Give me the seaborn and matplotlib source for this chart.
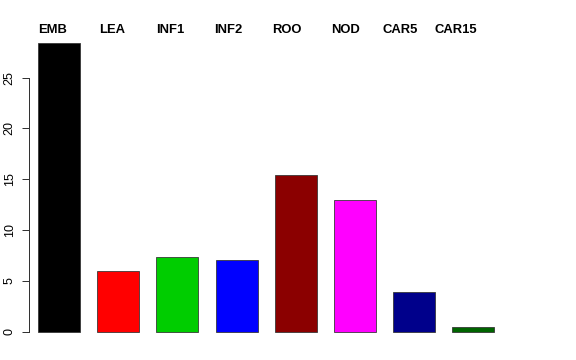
import matplotlib
matplotlib.use("Agg")
import matplotlib.pyplot as plt
import seaborn as sns
import pandas as pd

categories = ["EMB", "LEA", "INF1", "INF2", "ROO", "NOD", "CAR5", "CAR15"]
values = [28.45, 6.0, 7.4, 7.05, 15.4, 12.93, 3.88, 0.49]
colors = ["#000000", "#FF0000", "#00CD00", "#0000FF", "#8B0000", "#FF00FF", "#00008B", "#006400"]
yticks = [0, 5, 10, 15, 20, 25]

sns.set_style("white")
plt.rcParams["font.family"] = ["Liberation Sans", "DejaVu Sans"]
plt.rcParams["text.color"] = "black"
plt.rcParams["ytick.color"] = "black"
plt.rcParams["ytick.labelcolor"] = "black"

df = pd.DataFrame({"cat": categories, "val": values})

fig = plt.figure(figsize=(8, 5), dpi=72)
W, H = 576, 360
left_px, right_px = 29.3, 503.1
top_px, bottom_px = 31.0, 343.3
ax = fig.add_axes([left_px / W, 1 - bottom_px / H, (right_px - left_px) / W, (bottom_px - top_px) / H])

sns.barplot(data=df, x="cat", y="val", hue="cat", palette=colors, legend=False,
            width=0.71, edgecolor="#333333", linewidth=0.8, saturation=1, ax=ax)

ax.set_xlim(-0.502, 7.502)
ax.set_ylim(-1.138, 29.59)
ax.set_xlabel("")
ax.set_ylabel("")
ax.set_xticks([])
ax.set_yticks(yticks)
ax.set_yticklabels([str(t) for t in yticks], rotation=90, va="center", fontsize=12.5, color="black")
ax.tick_params(axis="y", length=7.5, width=1, pad=6, left=True, color="#333333")

for s in ["top", "right", "bottom"]:
    ax.spines[s].set_visible(False)
ax.spines["left"].set_bounds(0, 25)
ax.spines["left"].set_color("#333333")
ax.spines["left"].set_linewidth(1)

for i, c in enumerate(categories):
    ax.text(i * 0.99 + 0.13, 29.35, c, ha="right", va="baseline", color="black",
            fontsize=13, fontweight="bold", clip_on=False)

fig.savefig("out.png", dpi=72, facecolor="white")
